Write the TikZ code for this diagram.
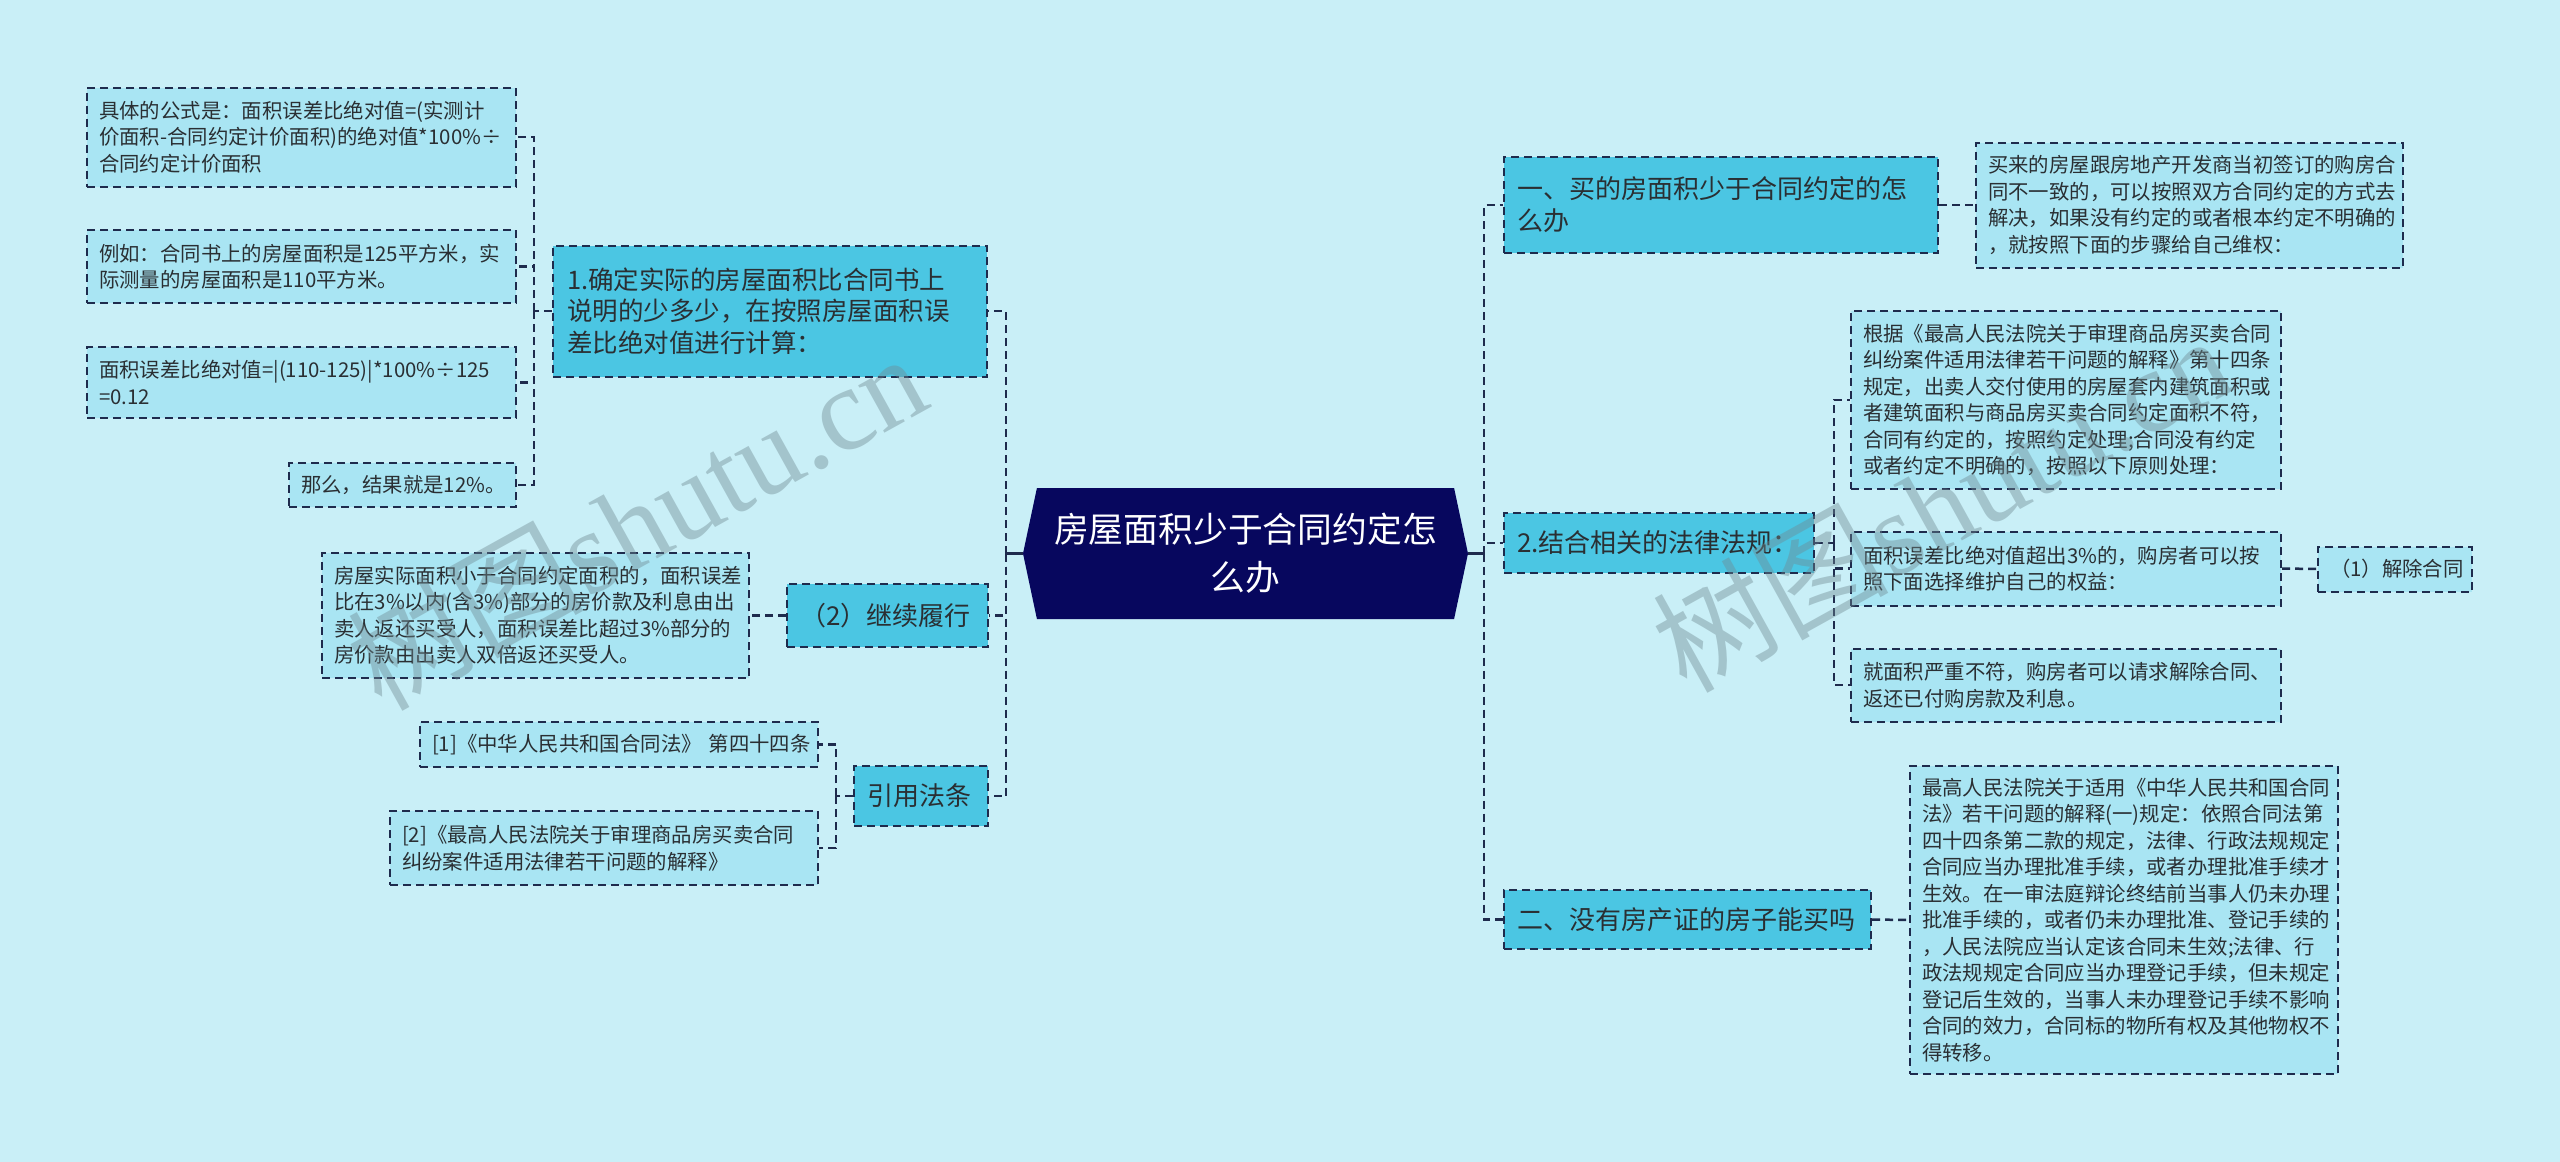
\documentclass[tikz,border=0pt]{standalone}
\usepackage{fontspec}
\setmainfont{Noto Sans CJK SC}
\newfontfamily\wmserif{Liberation Serif}
\usetikzlibrary{shapes.symbols}
\exhyphenpenalty=10000
\hyphenpenalty=10000
\definecolor{bgc}{HTML}{C9EFF7}
\definecolor{midc}{HTML}{4BC6E3}
\definecolor{lightc}{HTML}{A9E5F3}
\definecolor{rootc}{HTML}{07075E}
\definecolor{linec}{HTML}{1E2B4D}
\definecolor{txtc}{HTML}{2A2F33}
\definecolor{wmc}{HTML}{6F8A92}
\tikzset{
  boxbase/.style={draw=linec, line width=2pt, dash pattern=on 8pt off 5pt, inner ysep=0pt, inner xsep=12pt, align=left, text=txtc},
  midbox/.style={boxbase, fill=midc, inner xsep=13pt, font=\fontsize{26}{32}\selectfont},
  leafbox/.style={boxbase, fill=lightc, font=\fontsize{20.4}{26.5}\selectfont},
  conn/.style={draw=linec, line width=2.5pt, dash pattern=on 8pt off 5pt},
  rootconn/.style={draw=linec, line width=3pt},
  wm/.style={text=wmc, opacity=0.42, rotate=29, inner sep=0pt}
}
\begin{document}
\begin{tikzpicture}[x=1pt,y=-1pt]
\fill[bgc] (0,0) rectangle (2560,1162);
\useasboundingbox (0,0) rectangle (2560,1162);

% root
\node[signal, signal to=west and east, signal pointer angle=156, fill=rootc, text=white,
  minimum width=445pt, minimum height=131pt, inner sep=0pt, align=center,
  font=\fontsize{34.8}{48}\selectfont] (root) at (1245.5,553.5) {房屋面积少于合同约定怎\\么办};

% left branch 1
\node[midbox, minimum width=434pt, text width=406pt, minimum height=131pt, font=\fontsize{25.5}{31.7}\selectfont] (n1) at (770,311)
  {1.确定实际的房屋面积比合同书上\\说明的少多少，在按照房屋面积误\\差比绝对值进行计算：};
\node[leafbox, minimum width=429pt, text width=405pt, minimum height=99pt] (a1) at (301.5,137)
  {具体的公式是：面积误差比绝对值=(实测计\\价面积-合同约定计价面积)的绝对值*100\%÷\\合同约定计价面积};
\node[leafbox, minimum width=429pt, text width=405pt, minimum height=73pt] (a2) at (301.5,266.5)
  {例如：合同书上的房屋面积是125平方米，实\\际测量的房屋面积是110平方米。};
\node[leafbox, minimum width=429pt, text width=405pt, minimum height=71pt] (a3) at (301.5,382.5)
  {面积误差比绝对值=|(110-125)|*100\%÷125\\=0.12};
\node[leafbox, minimum width=227pt, text width=203pt, minimum height=44pt] (a4) at (402.5,485)
  {那么，结果就是12\%。};

% left branch 2
\node[midbox, minimum width=201pt, text width=175pt, minimum height=63pt] (n2) at (887.5,615.5) {（2）继续履行};
\node[leafbox, minimum width=427pt, text width=403pt, minimum height=125pt] (b1) at (535.5,615.5)
  {房屋实际面积小于合同约定面积的，面积误差\\比在3\%以内(含3\%)部分的房价款及利息由出\\卖人返还买受人，面积误差比超过3\%部分的\\房价款由出卖人双倍返还买受人。};

% left branch 3
\node[midbox, minimum width=134pt, text width=108pt, minimum height=60pt] (n3) at (921,796) {引用法条};
\node[leafbox, minimum width=398pt, text width=374pt, minimum height=45pt] (r1) at (619,744.5)
  {[1]《中华人民共和国合同法》~第四十四条};
\node[leafbox, minimum width=428pt, text width=404pt, minimum height=74pt] (r2) at (604,848)
  {[2]《最高人民法院关于审理商品房买卖合同\\纠纷案件适用法律若干问题的解释》};

% right branch 1
\node[midbox, minimum width=434pt, text width=408pt, minimum height=96pt] (m1) at (1721,205)
  {一、买的房面积少于合同约定的怎\\么办};
\node[leafbox, minimum width=427pt, text width=403pt, minimum height=125pt] (m1c) at (2189.5,205)
  {买来的房屋跟房地产开发商当初签订的购房合\\同不一致的，可以按照双方合同约定的方式去\\解决，如果没有约定的或者根本约定不明确的\\，就按照下面的步骤给自己维权：};

% right branch 2
\node[midbox, minimum width=310pt, text width=284pt, minimum height=60pt] (m2) at (1659,543) {2.结合相关的法律法规：};
\node[leafbox, minimum width=430pt, text width=406pt, minimum height=178pt] (s1) at (2066,400)
  {根据《最高人民法院关于审理商品房买卖合同\\纠纷案件适用法律若干问题的解释》第十四条\\规定，出卖人交付使用的房屋套内建筑面积或\\者建筑面积与商品房买卖合同约定面积不符，\\合同有约定的，按照约定处理;合同没有约定\\或者约定不明确的，按照以下原则处理：};
\node[leafbox, minimum width=430pt, text width=406pt, minimum height=74pt] (s2) at (2066,568.5)
  {面积误差比绝对值超出3\%的，购房者可以按\\照下面选择维护自己的权益：};
\node[leafbox, minimum width=154pt, text width=130pt, minimum height=45pt] (s2c) at (2395,569) {（1）解除合同};
\node[leafbox, minimum width=430pt, text width=406pt, minimum height=73pt] (s3) at (2066,685)
  {就面积严重不符，购房者可以请求解除合同、\\返还已付购房款及利息。};

% right branch 3
\node[midbox, minimum width=367pt, text width=341pt, minimum height=59pt] (m3) at (1687.5,919.5) {二、没有房产证的房子能买吗};
\node[leafbox, minimum width=428pt, text width=404pt, minimum height=308pt] (m3c) at (2124,920)
  {最高人民法院关于适用《中华人民共和国合同\\法》若干问题的解释(一)规定：依照合同法第\\四十四条第二款的规定，法律、行政法规规定\\合同应当办理批准手续，或者办理批准手续才\\生效。在一审法庭辩论终结前当事人仍未办理\\批准手续的，或者仍未办理批准、登记手续的\\，人民法院应当认定该合同未生效;法律、行\\政法规规定合同应当办理登记手续，但未规定\\登记后生效的，当事人未办理登记手续不影响\\合同的效力，合同标的物所有权及其他物权不\\得转移。};

% junction coordinates
\coordinate (lt) at (1006,553.5);
\coordinate (rt) at (1484,553.5);
\coordinate (j1) at (534,311);
\coordinate (j3) at (836,796);
\coordinate (j5) at (1834,543);

% connectors
\draw[rootconn] (root.west) -- (lt);
\draw[rootconn] (root.east) -- (rt);
\draw[conn] (lt) |- (n1.east);
\draw[conn] (lt) |- (n2.east);
\draw[conn] (lt) |- (n3.east);
\draw[conn] (n1.west) -- (j1);
\draw[conn] (j1) |- (a1.east);
\draw[conn] (j1) |- (a2.east);
\draw[conn] (j1) |- (a3.east);
\draw[conn] (j1) |- (a4.east);
\draw[conn] (n2.west) -- (b1.east);
\draw[conn] (n3.west) -- (j3);
\draw[conn] (j3) |- (r1.east);
\draw[conn] (j3) |- (r2.east);
\draw[conn] (rt) |- (m1.west);
\draw[conn] (rt) |- (m2.west);
\draw[conn] (rt) |- (m3.west);
\draw[conn] (m1.east) -- (m1c.west);
\draw[conn] (m2.east) -- (j5);
\draw[conn] (j5) |- (s1.west);
\draw[conn] (j5) |- (s2.west);
\draw[conn] (j5) |- (s3.west);
\draw[conn] (s2.east) -- (s2c.west);
\draw[conn] (m3.east) -- (m3c.west);

% watermarks
\node[wm] (wm1) at (636,520) {\fontsize{118}{118}\selectfont 树图\wmserif shutu.cn};
\node[wm] (wm2) at (1941,502) {\fontsize{118}{118}\selectfont 树图\wmserif shutu.cn};
\end{tikzpicture}
\end{document}
